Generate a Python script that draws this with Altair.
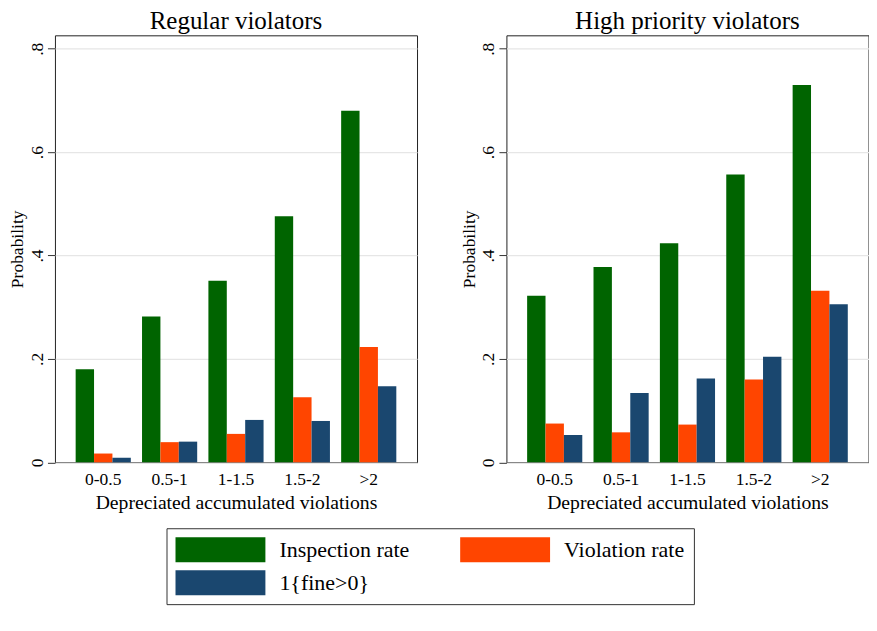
import altair as alt
import pandas as pd

categories = ["0-0.5", "0.5-1", "1-1.5", "1.5-2", ">2"]
series = ["Inspection rate", "Violation rate", "1{fine>0}"]
colors = ["#006400", "#ff4500", "#1a476f"]

regular_inspection = [0.180, 0.282, 0.351, 0.476, 0.680]
regular_violation = [0.017, 0.039, 0.055, 0.126, 0.223]
regular_fine = [0.009, 0.040, 0.082, 0.080, 0.147]

high_inspection = [0.322, 0.378, 0.424, 0.557, 0.730]
high_violation = [0.075, 0.058, 0.073, 0.160, 0.332]
high_fine = [0.053, 0.134, 0.162, 0.204, 0.306]

panels = {
    "Regular violators": [regular_inspection, regular_violation, regular_fine],
    "High priority violators": [high_inspection, high_violation, high_fine],
}

rows = []
for pname, vals in panels.items():
    for s, arr in zip(series, vals):
        for c, v in zip(categories, arr):
            rows.append({"panel": pname, "category": c, "series": s, "value": v})
df = pd.DataFrame(rows)

FONT = "Liberation Serif"


def make_panel(pname):
    return (
        alt.Chart(
            df[df.panel == pname],
            title=alt.Title(pname, fontSize=25, font=FONT, fontWeight="normal",
                            color="black", anchor="middle", offset=1.5),
        )
        .mark_bar()
        .encode(
            x=alt.X(
                "category:N",
                sort=categories,
                scale=alt.Scale(paddingInner=0.169, paddingOuter=0.312),
                axis=alt.Axis(
                    title="Depreciated accumulated violations",
                    labelAngle=0,
                    ticks=False,
                    tickSize=0,
                    domain=False,
                    grid=False,
                    labelPadding=8.5,
                    titlePadding=4,
                    labelFontSize=17.5,
                    titleFontSize=19.7,
                ),
            ),
            xOffset=alt.XOffset("series:N", sort=series,
                                scale=alt.Scale(paddingInner=0, paddingOuter=0)),
            y=alt.Y(
                "value:Q",
                scale=alt.Scale(domain=[0, 0.826], nice=False, zero=True),
                axis=alt.Axis(
                    title="Probability",
                    values=[0, 0.2, 0.4, 0.6, 0.8],
                    labelExpr="datum.value == 0 ? '0' : '.' + round(datum.value * 10)",
                    labelAngle=270,
                    labelAlign="center",
                    labelBaseline="alphabetic",
                    labelPadding=5.2,
                    tickSize=7.5,
                    tickColor="#333333",
                    domain=False,
                    grid=True,
                    gridColor="#e6e6e6",
                    gridWidth=1.2,
                    titlePadding=1.5,
                    labelFontSize=17.5,
                    titleFontSize=17.5,
                ),
            ),
            color=alt.Color(
                "series:N",
                sort=series,
                scale=alt.Scale(domain=series, range=colors),
                legend=alt.Legend(
                    title=None,
                    orient="none",
                    direction="horizontal",
                    legendX=111.7,
                    legendY=493.5,
                    columns=2,
                    symbolType="M-1,-1H6.2V1H-1Z",
                    symbolSize=625,
                    symbolStrokeWidth=0,
                    labelFontSize=22,
                    labelFont=FONT,
                    labelColor="black",
                    labelOffset=79,
                    columnPadding=50,
                    rowPadding=8,
                    padding=9,
                    strokeColor="#333333",
                    labelLimit=400,
                ),
            ),
        )
        .properties(width=362.5, height=427.5)
    )


chart = (
    alt.hconcat(make_panel("Regular violators"), make_panel("High priority violators"), spacing=42)
    .properties(padding={"left": 0, "top": 0, "right": 0, "bottom": 0}, background="white")
    .configure_view(stroke="#222222", strokeWidth=1)
    .configure_axis(labelFont=FONT, titleFont=FONT, labelColor="black",
                    titleColor="black", titleFontWeight="normal")
)

chart.save("out.html", embed_options={"renderer": "svg", "actions": False})
